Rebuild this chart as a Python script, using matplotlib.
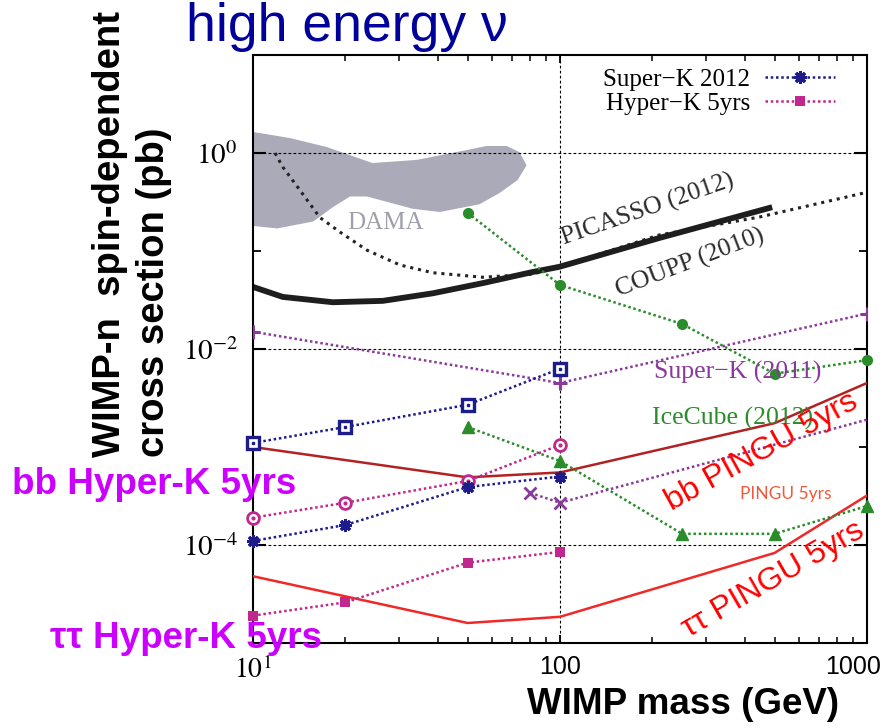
import matplotlib
matplotlib.use("Agg")
import matplotlib.pyplot as plt
from matplotlib.ticker import FixedLocator, NullFormatter, LogLocator, FixedFormatter
from matplotlib.transforms import ScaledTranslation
from matplotlib.font_manager import FontProperties

plt.rcParams["mathtext.fontset"] = "stix"

# ---- data (WIMP mass in GeV, cross section in pb) ----
mass_std = [10, 20, 50, 100]
superk2012 = [1.1e-4, 1.6e-4, 3.9e-4, 5.0e-4]
hyperk5 = [1.9e-5, 2.6e-5, 6.6e-5, 8.5e-5]
superk_bb = [1.1e-3, 1.6e-3, 2.7e-3, 6.3e-3]
hyperk_bb = [1.9e-4, 2.7e-4, 4.5e-4, 1.05e-3]

sk2011_plus_mass = [10, 100, 1000]
sk2011_plus = [1.5e-2, 4.5e-3, 2.3e-2]
sk2011_x_mass = [80, 100, 1000]
sk2011_x = [3.4e-4, 2.7e-4, 1.9e-3]

icecube_mass = [50, 100, 250, 500, 1000]
icecube_circ = [0.245, 0.045, 0.018, 5.6e-3, 7.7e-3]
icecube_tri = [1.6e-3, 7.2e-4, 1.3e-4, 1.3e-4, 2.5e-4]

pingu_mass = [10, 50, 100, 500, 1000]
pingu_bb = [1.0e-3, 4.9e-4, 5.5e-4, 1.75e-3, 4.5e-3]
pingu_tautau = [4.8e-5, 1.6e-5, 1.85e-5, 8.3e-5, 3.2e-4]

coupp_mass = [11.8, 12.5, 14.2, 16.5, 19.2, 23.5, 30.1, 38.5, 56.0, 81.4, 99.6, 211, 446, 978]
coupp = [1.0, 0.72, 0.42, 0.22, 0.156, 0.102, 0.072, 0.060, 0.054, 0.058, 0.069, 0.146, 0.222, 0.391]

picasso_mass = [10, 12.5, 18.2, 26.5, 38.5, 56.0, 81.4, 99.6, 211, 491]
picasso = [0.043, 0.034, 0.030, 0.031, 0.037, 0.047, 0.061, 0.069, 0.136, 0.28]

dama_mass = [9.0, 10, 13.2, 17.4, 24.5, 34.1, 49.6, 57.7, 67.0, 73.8, 77.8, 72.8, 63.5,
             54.7, 40.6, 33.1, 23.5, 20.7, 18.2, 15.7, 12.0, 10, 9.0]
dama = [1.7, 1.64, 1.42, 1.15, 0.79, 0.85, 1.07, 1.18, 1.18, 1.02, 0.75, 0.53, 0.39,
        0.30, 0.25, 0.27, 0.36, 0.36, 0.28, 0.20, 0.17, 0.18, 0.18]

x_ticks = [10, 100, 1000]
x_ticklabels = ["$10^{1}$", "100", "1000"]
y_ticks = [1e-4, 1e-2, 1e0]
y_ticklabels = ["$10^{-4}$", "$10^{-2}$", "$10^{0}$"]

# ---- figure ----
W, H = 892, 728
fig = plt.figure(figsize=(W / 100, H / 100), dpi=100)
ax = fig.add_axes([253 / W, 1 - 643 / H, (867 - 253) / W, (643 - 55) / H])
ax.set_xscale("log")
ax.set_yscale("log")
ax.set_xlim(10, 1000)
ax.set_ylim(1e-5, 10)

navy = "#1c1c8a"
magenta = "#c0288e"
purple = "#8a3a9a"
green = "#2a8c2a"
dotted = (0, (1, 1.1))

# DAMA region
ax.fill(dama_mass, dama, color="#aaaab9", lw=0, zorder=1)

# grid
for yv in y_ticks:
    ax.axhline(yv, color="k", lw=0.8, ls=(0, (2.5, 2)), zorder=1.5)
ax.axvline(100, color="k", lw=0.8, ls=(0, (2.5, 2)), zorder=1.5)

# direct-detection limits
ax.plot(coupp_mass, coupp, color="#222222", lw=2.2, ls=(0, (1, 1.6)), zorder=2)
ax.plot(picasso_mass, picasso, color="#1e1e1e", lw=4.2, solid_capstyle="butt", zorder=2)

# PINGU
ax.plot(pingu_mass, pingu_bb, color="#b32222", lw=1.8, zorder=3)
ax.plot(pingu_mass, pingu_tautau, color="#f02828", lw=1.8, zorder=3)

# Super-K 2011 and IceCube 2012
ax.plot(sk2011_plus_mass, sk2011_plus, color=purple, lw=1.8, ls=dotted, marker="+",
        ms=10, mew=2.2, zorder=4)
ax.plot(sk2011_x_mass, sk2011_x, color=purple, lw=1.8, ls=dotted, marker="x",
        ms=8, mew=2.0, markevery=[0, 1], zorder=4)
ax.plot(icecube_mass, icecube_circ, color=green, lw=1.8, ls=dotted, marker="o",
        ms=7, zorder=4, clip_on=False)
ax.plot(icecube_mass, icecube_tri, color=green, lw=1.8, ls=dotted, marker="^",
        ms=8, zorder=4, clip_on=False)

# Super-K / Hyper-K bb
ax.plot(mass_std, superk_bb, color=navy, lw=1.8, ls=dotted, marker="s", ms=8.5,
        mfc="white", mec=navy, mew=2.4, zorder=5, clip_on=False)
ax.plot(mass_std, superk_bb, ls="none", marker="s", ms=2, color=navy, zorder=5, clip_on=False)
ax.plot(mass_std, hyperk_bb, color=magenta, lw=1.8, ls=dotted, marker="o", ms=8.5,
        mfc="white", mec=magenta, mew=2.0, zorder=5, clip_on=False)
ax.plot(mass_std, hyperk_bb, ls="none", marker="o", ms=2, color=magenta, zorder=5, clip_on=False)

# Super-K 2012 / Hyper-K 5yrs (tau tau)
h1, = ax.plot(mass_std, superk2012, color=navy, lw=1.8, ls=dotted, marker=(8, 2, 0),
              ms=9, mew=2.2, zorder=5, clip_on=False, label="Super\u2212K 2012")
h2, = ax.plot(mass_std, hyperk5, color=magenta, lw=1.8, ls=dotted, marker="s",
              ms=7.5, mew=0, zorder=5, clip_on=False, label="Hyper\u2212K 5yrs")

# ---- axes styling ----
for s in ax.spines.values():
    s.set_linewidth(1.5)
ax.xaxis.set_major_locator(FixedLocator(x_ticks))
ax.xaxis.set_major_formatter(FixedFormatter(x_ticklabels))
ax.xaxis.set_minor_locator(LogLocator(base=10, subs=range(2, 10)))
ax.xaxis.set_minor_formatter(NullFormatter())
ax.yaxis.set_major_locator(FixedLocator(y_ticks))
ax.yaxis.set_major_formatter(FixedFormatter(y_ticklabels))
ax.yaxis.set_minor_locator(FixedLocator([1e-5, 1e-3, 1e-1, 1e1]))
ax.yaxis.set_minor_formatter(NullFormatter())

ax.tick_params(axis="y", which="major", direction="in", length=9.5, width=1.5,
               left=True, right=True, pad=11, labelsize=21)
ax.tick_params(axis="y", which="minor", direction="in", length=5.5, width=1.3,
               left=True, right=True)
ax.tick_params(axis="x", which="major", direction="in", length=6, width=1.3,
               bottom=True, top=True, pad=9, labelsize=20)
ax.tick_params(axis="x", which="minor", direction="in", length=4, width=1.1,
               bottom=True, top=True)

xl = ax.get_xticklabels()
for lab in xl[1:]:
    lab.set_fontfamily("Liberation Sans")
    lab.set_fontsize(18)
xl[2].set_transform(xl[2].get_transform() + ScaledTranslation(-10 / 72, 0, fig.dpi_scale_trans))

# legend
leg = ax.legend(handles=[h1, h2], loc="upper right", bbox_to_anchor=(0.948, 0.977),
                markerfirst=False, frameon=False, borderpad=0, borderaxespad=0,
                handlelength=2.8, handletextpad=0.6, labelspacing=0.06, numpoints=1,
                prop=FontProperties(family="Liberation Serif", size=18))

# ---- annotations inside the plot ----
serif = "Liberation Serif"
fig.text(385 / W, 1 - 223 / H, "DAMA", family=serif, fontsize=18, color="#a0a0ac",
         ha="center", va="center")
fig.text(648 / W, 1 - 210 / H, "PICASSO (2012)", family=serif, fontsize=18.5,
         color="#2a2a2a", ha="center", va="center", rotation=19, rotation_mode="anchor")
fig.text(690 / W, 1 - 263 / H, "COUPP (2010)", family=serif, fontsize=18.5,
         color="#2a2a2a", ha="center", va="center", rotation=21, rotation_mode="anchor")
fig.text(738 / W, 1 - 372 / H, "Super\u2212K (2011)", family=serif, fontsize=18.5,
         color=purple, ha="center", va="center", zorder=3)
fig.text(733 / W, 1 - 418 / H, "IceCube (2012)", family=serif, fontsize=18.5,
         color=green, ha="center", va="center")
fig.text(786 / W, 1 - 494 / H, "PINGU 5yrs", family="Lato", fontsize=12.5,
         color="#f05a3c", ha="center", va="center")
fig.text(762 / W, 1 - 452 / H, "bb PINGU 5yrs", family="Liberation Sans", fontsize=23,
         color="#ff0000", ha="center", va="center", rotation=29, rotation_mode="anchor")
fig.text(773 / W, 1 - 580 / H, "\u03c4\u03c4 PINGU 5yrs", family="Liberation Sans",
         fontsize=23, color="#ff0000", ha="center", va="center", rotation=30,
         rotation_mode="anchor")

# ---- outer labels ----
fig.text(347 / W, 1 - 27 / H, "high energy \u03bd", family="Liberation Sans", fontsize=38.5,
         color="#00009a", ha="center", va="center")
fig.text(132 / W, 1 - 457 / H, "WIMP-n  spin-dependent\ncross section (pb)",
         family="Liberation Sans", fontweight="bold", fontsize=27.5, rotation=90,
         ha="center", va="bottom", multialignment="left", linespacing=1.3)
fig.text(683 / W, 1 - 704 / H, "WIMP mass (GeV)", family="Liberation Sans",
         fontweight="bold", fontsize=26.5, ha="center", va="center")
fig.text(12 / W, 1 - 484 / H, "bb Hyper-K 5yrs", family="Liberation Sans",
         fontweight="bold", fontsize=26.5, color="#cc00ff", ha="left", va="center", zorder=10)
fig.text(50 / W, 1 - 639 / H, "\u03c4\u03c4 Hyper-K 5yrs", family="Liberation Sans",
         fontweight="bold", fontsize=26.5, color="#cc00ff", ha="left", va="center", zorder=10)

fig.savefig("out.png", dpi=100)
